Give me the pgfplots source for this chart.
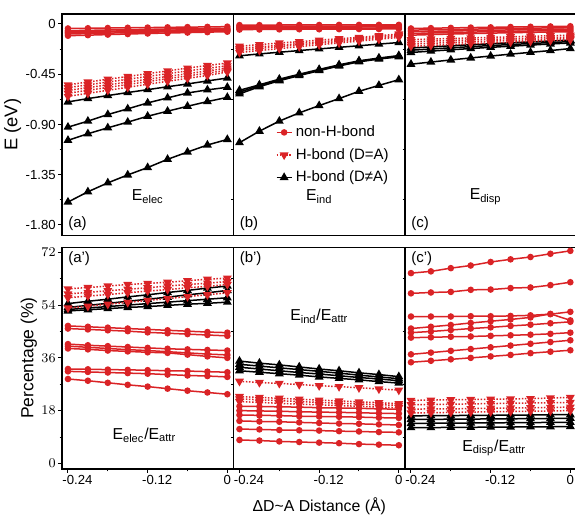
\documentclass[border=0pt]{standalone}
\usepackage{pgfplots}
\pgfplotsset{compat=1.18}
\usepackage{pgfplotstable}
\usepgfplotslibrary{groupplots}
\usepackage{fontspec}
\setmainfont{Liberation Sans}
\definecolor{myred}{RGB}{218,35,38}

\pgfplotstableread{
x n1 n2 n3 n4 n5 n6 d1 d2 d3 d4 d5 b1 b2 b3 b4
-0.24 -0.040 -0.060 -0.070 -0.080 -0.090 -0.105 -0.545 -0.570 -0.595 -0.620 -0.648 -0.698 -0.924 -1.042 -1.595
-0.21 -0.038 -0.057 -0.067 -0.076 -0.086 -0.100 -0.520 -0.545 -0.570 -0.594 -0.621 -0.668 -0.870 -0.983 -1.503
-0.18 -0.036 -0.054 -0.064 -0.072 -0.082 -0.095 -0.495 -0.520 -0.545 -0.568 -0.594 -0.641 -0.811 -0.930 -1.423
-0.15 -0.034 -0.051 -0.061 -0.068 -0.078 -0.090 -0.470 -0.495 -0.520 -0.542 -0.567 -0.614 -0.760 -0.879 -1.352
-0.12 -0.032 -0.048 -0.058 -0.065 -0.074 -0.085 -0.445 -0.470 -0.495 -0.516 -0.540 -0.588 -0.707 -0.826 -1.286
-0.09 -0.030 -0.045 -0.055 -0.062 -0.070 -0.081 -0.420 -0.445 -0.470 -0.490 -0.513 -0.562 -0.662 -0.781 -1.212
-0.06 -0.028 -0.043 -0.052 -0.059 -0.067 -0.077 -0.395 -0.420 -0.445 -0.465 -0.487 -0.537 -0.618 -0.737 -1.147
-0.03 -0.026 -0.041 -0.050 -0.056 -0.064 -0.073 -0.372 -0.397 -0.420 -0.440 -0.461 -0.510 -0.590 -0.695 -1.084
0 -0.024 -0.039 -0.048 -0.053 -0.061 -0.069 -0.350 -0.375 -0.395 -0.415 -0.430 -0.484 -0.567 -0.657 -1.034
}\ta

\pgfplotstableread{
x n1 n2 n3 n4 n5 d1 d2 d3 d4 b1 b2 b3 b4 b5
-0.24 -0.010 -0.020 -0.030 -0.040 -0.050 -0.200 -0.220 -0.235 -0.255 -0.285 -0.594 -0.610 -0.626 -1.063
-0.21 -0.010 -0.020 -0.029 -0.039 -0.049 -0.185 -0.205 -0.220 -0.238 -0.268 -0.545 -0.553 -0.562 -0.960
-0.18 -0.009 -0.019 -0.029 -0.039 -0.048 -0.170 -0.190 -0.202 -0.220 -0.253 -0.494 -0.501 -0.508 -0.870
-0.15 -0.009 -0.019 -0.028 -0.038 -0.047 -0.158 -0.175 -0.187 -0.203 -0.238 -0.450 -0.456 -0.462 -0.796
-0.12 -0.009 -0.018 -0.028 -0.037 -0.047 -0.145 -0.160 -0.172 -0.186 -0.223 -0.407 -0.412 -0.418 -0.731
-0.09 -0.008 -0.018 -0.027 -0.037 -0.046 -0.132 -0.145 -0.157 -0.170 -0.209 -0.366 -0.370 -0.376 -0.668
-0.06 -0.008 -0.018 -0.027 -0.036 -0.045 -0.120 -0.130 -0.141 -0.153 -0.195 -0.330 -0.334 -0.339 -0.603
-0.03 -0.008 -0.017 -0.026 -0.036 -0.045 -0.105 -0.115 -0.125 -0.137 -0.180 -0.305 -0.309 -0.314 -0.550
0 -0.008 -0.017 -0.026 -0.035 -0.044 -0.090 -0.100 -0.110 -0.120 -0.166 -0.283 -0.288 -0.294 -0.499
}\tb

\pgfplotstableread{
x n1 n2 n3 n4 n5 d1 d2 d3 d4 b1 b2 b3 b4
-0.24 -0.040 -0.055 -0.070 -0.085 -0.100 -0.140 -0.160 -0.180 -0.200 -0.215 -0.235 -0.255 -0.360
-0.21 -0.037 -0.052 -0.066 -0.081 -0.095 -0.135 -0.154 -0.173 -0.192 -0.205 -0.224 -0.243 -0.341
-0.18 -0.035 -0.049 -0.063 -0.077 -0.090 -0.130 -0.148 -0.166 -0.184 -0.195 -0.213 -0.231 -0.322
-0.15 -0.032 -0.046 -0.059 -0.073 -0.086 -0.125 -0.142 -0.159 -0.176 -0.186 -0.203 -0.220 -0.304
-0.12 -0.030 -0.043 -0.056 -0.069 -0.082 -0.120 -0.137 -0.153 -0.169 -0.177 -0.193 -0.209 -0.287
-0.09 -0.027 -0.040 -0.053 -0.066 -0.078 -0.115 -0.132 -0.147 -0.162 -0.168 -0.184 -0.199 -0.270
-0.06 -0.025 -0.037 -0.050 -0.063 -0.075 -0.110 -0.127 -0.141 -0.155 -0.160 -0.175 -0.189 -0.254
-0.03 -0.022 -0.035 -0.047 -0.060 -0.072 -0.105 -0.122 -0.135 -0.148 -0.152 -0.166 -0.179 -0.238
0 -0.020 -0.033 -0.045 -0.057 -0.069 -0.100 -0.117 -0.130 -0.142 -0.145 -0.158 -0.170 -0.220
}\tc

\pgfplotstableread{
x n1 n2 n3 n4 n5 n6 n7 n8 d1 d2 d3 d4 b1 b2 b3 b4
-0.24 46.9 46.0 40.7 40.0 39.2 32.2 31.4 28.8 59.5 57.8 56.5 53.0 54.5 53.2 52.5 52.0
-0.21 46.6 45.7 40.3 39.6 38.9 32.1 31.2 28.2 60.0 58.3 57.1 53.6 55.3 53.9 53.0 52.4
-0.18 46.3 45.4 40.0 39.2 38.5 32.0 31.0 27.5 60.5 58.9 57.6 54.3 56.0 54.6 53.5 52.8
-0.15 46.0 45.1 39.7 38.8 38.2 31.9 30.8 26.8 61.0 59.4 58.2 54.9 56.8 55.3 54.0 53.2
-0.12 45.7 44.7 39.4 38.5 37.9 31.8 30.6 26.2 61.4 59.9 58.8 55.6 57.5 56.0 54.5 53.5
-0.09 45.4 44.4 39.1 38.1 37.7 31.6 30.3 25.5 61.8 60.5 59.3 56.2 58.3 56.7 55.0 53.9
-0.06 45.1 44.1 38.9 37.7 37.1 31.5 30.0 24.8 62.3 61.0 59.9 56.9 59.0 57.5 55.5 54.3
-0.03 44.8 43.8 38.7 37.3 36.5 31.3 29.8 24.2 62.8 61.5 60.4 57.5 59.8 58.2 56.0 54.6
0 44.6 43.5 38.5 37.0 36.0 31.1 29.5 23.6 63.2 62.0 61.0 58.2 60.5 59.0 56.5 55.0
}\pa

\pgfplotstableread{
x n1 n2 n3 n4 n5 n6 d1 d2 d3 d4 b1 b2 b3 b4
-0.24 19.5 18.0 16.5 14.5 11.7 8.0 28.0 22.8 22.0 21.1 34.9 33.8 32.8 31.6
-0.21 19.4 17.9 16.4 14.3 11.6 7.8 27.6 22.5 21.7 20.8 34.2 33.2 32.2 31.1
-0.18 19.3 17.8 16.3 14.2 11.4 7.5 27.3 22.2 21.4 20.5 33.6 32.6 31.6 30.6
-0.15 19.2 17.6 16.1 14.0 11.3 7.3 26.9 21.9 21.1 20.2 32.9 32.0 31.0 30.1
-0.12 19.0 17.5 16.0 13.8 11.2 7.1 26.5 21.6 20.8 20.0 32.2 31.4 30.5 29.5
-0.09 18.9 17.4 15.9 13.6 11.0 6.9 26.2 21.3 20.5 19.7 31.6 30.8 29.9 29.0
-0.06 18.8 17.3 15.8 13.5 10.9 6.6 25.8 21.0 20.3 19.5 30.9 30.1 29.3 28.5
-0.03 18.6 17.1 15.6 13.3 10.7 6.4 25.4 20.7 20.0 19.2 30.3 29.5 28.8 27.9
0 18.5 17.0 15.5 13.1 10.6 6.2 25.0 20.4 19.8 19.0 29.6 28.9 28.2 27.4
}\pb

\pgfplotstableread{
x n1 n2 n3 n4 n5 n6 n7 n8 d1 d2 d3 d4 b1 b2 b3 b4
-0.24 64.9 58.0 50.1 46.0 44.6 42.9 37.2 34.5 21.5 20.0 18.5 17.2 16.2 15.0 13.6 12.2
-0.21 65.5 58.3 50.1 46.6 45.0 43.0 37.8 35.0 21.6 20.1 18.6 17.3 16.3 15.0 13.7 12.2
-0.18 66.6 58.5 50.1 47.2 45.5 43.2 38.4 35.5 21.7 20.2 18.6 17.4 16.3 15.1 13.7 12.3
-0.15 67.5 59.2 50.2 47.9 46.0 43.3 39.0 36.0 21.8 20.3 18.7 17.5 16.4 15.1 13.8 12.3
-0.12 68.7 59.3 50.2 48.5 46.4 43.5 39.6 36.5 21.9 20.4 18.8 17.6 16.4 15.2 13.8 12.4
-0.09 69.6 59.8 50.3 49.1 46.9 43.7 40.2 37.0 22.0 20.5 18.9 17.7 16.5 15.2 13.9 12.4
-0.06 70.4 60.0 50.5 49.8 47.3 43.9 40.8 37.6 22.1 20.6 19.0 17.8 16.5 15.3 13.9 12.5
-0.03 71.5 60.8 50.9 51.0 47.8 44.2 41.4 38.1 22.3 20.7 19.1 17.9 16.6 15.3 14.0 12.5
0 72.5 61.8 51.7 48.8 48.3 44.6 42.0 38.6 22.5 20.8 19.2 18.0 16.6 15.4 14.0 12.6
}\pc

\pgfplotsset{
  nonh/.style={myred, line width=0.9pt, mark=*, mark size=1.5pt, mark options={solid}},
  hdeq/.style={myred, line width=0.9pt, densely dotted, mark=triangle*, mark size=2.2pt, mark options={solid, rotate=180}},
  hdne/.style={black, line width=0.9pt, mark=triangle*, mark size=2.2pt, mark options={solid}},
  panel/.style={scale only axis, width=102.9pt, xmin=-0.249, xmax=0.0093,
    axis line style={line width=0.8pt}, tick align=outside,
    xtick pos=bottom, ytick pos=left,
    major tick length=2.4pt, minor tick length=1.4pt,
    every tick/.style={black, line width=0.6pt},
    tick label style={font=\fontsize{7.9}{9}\selectfont, inner sep=1.2pt},
    ylabel style={font=\fontsize{10.5}{12}\selectfont, yshift=-2pt},
    xlabel style={font=\fontsize{9.5}{11}\selectfont, yshift=-3pt}},
  toprow/.style={panel, height=133pt, ymin=-1.896, ymax=0.0896,
    ytick={0,-0.45,-0.9,-1.35,-1.8}, yticklabels={0,-0.45,-0.90,-1.35,-1.80},
    minor ytick={-0.225,-0.675,-1.125,-1.575}, xmajorticks=false, xminorticks=false},
  botrow/.style={panel, height=133pt, ymin=-1.9, ymax=73.7,
    ytick={0,18,36,54,72}, minor ytick={9,27,45,63},
    xtick={-0.24,-0.12,0},
    xticklabels={\rlap{\hspace*{-3.3pt}-0.24},\rlap{\hspace*{-3.3pt}-0.12},0},
    minor xtick={-0.18,-0.06}},
  noy/.style={ymajorticks=false, yminorticks=false},
}
\newcommand{\pfont}{\fontsize{9}{11}\selectfont}
\newcommand{\efont}{\fontsize{9.5}{11}\selectfont}

\begin{document}
\begin{tikzpicture}
\begin{groupplot}[group style={group name=g, group size=3 by 2, horizontal sep=0pt, vertical sep=7pt}]
% (a)
\nextgroupplot[toprow, ylabel={E (eV)}, ylabel style={font=\fontsize{11}{13}\selectfont}]
\pgfplotsinvokeforeach{b1,b2,b3,b4}{\addplot[hdne, forget plot] table[x=x,y=#1]{\ta};}
\pgfplotsinvokeforeach{d1,d2,d3,d4,d5}{\addplot[hdeq, forget plot] table[x=x,y=#1]{\ta};}
\pgfplotsinvokeforeach{n1,n2,n3,n4,n5,n6}{\addplot[nonh, forget plot] table[x=x,y=#1]{\ta};}
\node[anchor=south west, font=\pfont, inner sep=1pt] at (rel axis cs:0.025,0.015) {(a)};
\node[font=\efont] at (rel axis cs:0.50,0.176) {E\textsubscript{elec}};
% (b)
\nextgroupplot[toprow, noy,
  legend style={draw=none, fill=none, at={(rel axis cs:0.235,0.52)}, anchor=north west,
    font=\fontsize{9}{11}\selectfont, row sep=1.5pt, inner sep=1pt},
  legend cell align=left,
  legend image code/.code={\draw[mark repeat=2, mark phase=2] plot coordinates {(0cm,0cm) (0.16cm,0cm) (0.32cm,0cm)};}]
\addlegendimage{nonh}
\addlegendimage{hdeq}
\addlegendimage{hdne}
\pgfplotsinvokeforeach{b1,b2,b3,b4,b5}{\addplot[hdne, forget plot] table[x=x,y=#1]{\tb};}
\pgfplotsinvokeforeach{d1,d2,d3,d4}{\addplot[hdeq, forget plot] table[x=x,y=#1]{\tb};}
\pgfplotsinvokeforeach{n1,n2,n3,n4,n5}{\addplot[nonh, forget plot] table[x=x,y=#1]{\tb};}
\legend{non-H-bond, H-bond (D=A), H-bond (D≠A)}
\node[anchor=south west, font=\pfont, inner sep=1pt] at (rel axis cs:0.025,0.015) {(b)};
\node[font=\efont] at (rel axis cs:0.50,0.176) {E\textsubscript{ind}};
% (c)
\nextgroupplot[toprow, noy]
\pgfplotsinvokeforeach{b1,b2,b3,b4}{\addplot[hdne, forget plot] table[x=x,y=#1]{\tc};}
\pgfplotsinvokeforeach{d1,d2,d3,d4}{\addplot[hdeq, forget plot] table[x=x,y=#1]{\tc};}
\pgfplotsinvokeforeach{n1,n2,n3,n4,n5}{\addplot[nonh, forget plot] table[x=x,y=#1]{\tc};}
\node[anchor=south west, font=\pfont, inner sep=1pt] at (rel axis cs:0.025,0.015) {(c)};
\node[font=\efont] at (rel axis cs:0.47,0.176) {E\textsubscript{disp}};
% (a')
\nextgroupplot[botrow, ylabel={Percentage (\%)}]
\pgfplotsinvokeforeach{b1,b2,b3,b4}{\addplot[hdne, forget plot] table[x=x,y=#1]{\pa};}
\pgfplotsinvokeforeach{d1,d2,d3,d4}{\addplot[hdeq, forget plot] table[x=x,y=#1]{\pa};}
\pgfplotsinvokeforeach{n1,n2,n3,n4,n5,n6,n7,n8}{\addplot[nonh, forget plot] table[x=x,y=#1]{\pa};}
\node[anchor=north west, font=\pfont, inner sep=1pt] at (rel axis cs:0.025,0.99) {(a')};
\node[font=\efont] at (rel axis cs:0.48,0.15) {E\textsubscript{elec}/E\textsubscript{attr}};
% (b')
\nextgroupplot[botrow, noy, xlabel={ΔD\textasciitilde A Distance (Å)}]
\pgfplotsinvokeforeach{b1,b2,b3,b4}{\addplot[hdne, forget plot] table[x=x,y=#1]{\pb};}
\pgfplotsinvokeforeach{d1,d2,d3,d4}{\addplot[hdeq, forget plot] table[x=x,y=#1]{\pb};}
\pgfplotsinvokeforeach{n1,n2,n3,n4,n5,n6}{\addplot[nonh, forget plot] table[x=x,y=#1]{\pb};}
\node[anchor=north west, font=\pfont, inner sep=1pt] at (rel axis cs:0.025,0.99) {(b')};
\node[font=\efont] at (rel axis cs:0.50,0.69) {E\textsubscript{ind}/E\textsubscript{attr}};
% (c')
\nextgroupplot[botrow, noy]
\pgfplotsinvokeforeach{b1,b2,b3,b4}{\addplot[hdne, forget plot] table[x=x,y=#1]{\pc};}
\pgfplotsinvokeforeach{d1,d2,d3,d4}{\addplot[hdeq, forget plot] table[x=x,y=#1]{\pc};}
\pgfplotsinvokeforeach{n1,n2,n3,n4,n5,n6,n7,n8}{\addplot[nonh, forget plot] table[x=x,y=#1]{\pc};}
\node[anchor=north west, font=\pfont, inner sep=1pt] at (rel axis cs:0.025,0.99) {(c')};
\node[font=\efont] at (rel axis cs:0.52,0.095) {E\textsubscript{disp}/E\textsubscript{attr}};
\end{groupplot}
\pgfresetboundingbox
\path[use as bounding box] ([xshift=-37.2pt,yshift=8.4pt]g c1r1.north west) rectangle ([xshift=-0.9pt,yshift=-28.8pt]g c3r2.south east);
\end{tikzpicture}
\end{document}
